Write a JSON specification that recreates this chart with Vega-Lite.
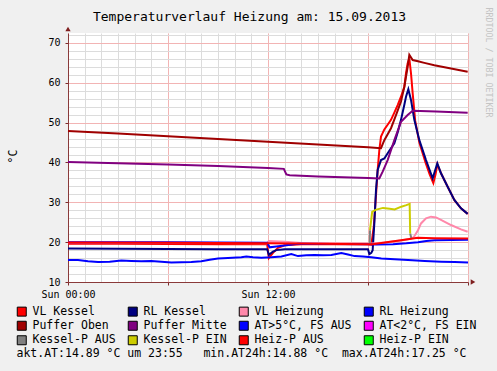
{
  "$schema": "https://vega.github.io/schema/vega-lite/v6.json",
  "width": 400,
  "height": 249,
  "autosize": "none",
  "padding": {"left": 68, "top": 33, "right": 29, "bottom": 89},
  "background": "#F0F0F0",
  "view": {"fill": "#FFFFFF", "stroke": null},
  "config": {
    "view": {"fill": "#FFFFFF", "stroke": null},
    "font": "DejaVu Sans Mono",
    "axis": {"labelFont": "DejaVu Sans Mono", "titleFont": "DejaVu Sans Mono", "labelColor": "#000000", "titleColor": "#000000", "titleFontWeight": "normal"}
  },
  "datasets": {
    "d": [
      {"s":"VL Kessel","g":1,"t":0,"v":19.6},{"s":"VL Kessel","g":1,"t":3,"v":19.6},{"s":"VL Kessel","g":1,"t":6,"v":19.55},{"s":"VL Kessel","g":1,"t":9,"v":19.5},{"s":"VL Kessel","g":1,"t":11.95,"v":19.5},{"s":"VL Kessel","g":1,"t":12.05,"v":16.0},{"s":"VL Kessel","g":1,"t":12.3,"v":17.3},{"s":"VL Kessel","g":1,"t":12.6,"v":18.6},{"s":"VL Kessel","g":1,"t":13.0,"v":19.2},{"s":"VL Kessel","g":1,"t":14,"v":19.5},{"s":"VL Kessel","g":1,"t":18.0,"v":19.5},{"s":"VL Kessel","g":1,"t":18.2,"v":19.4},{"s":"VL Kessel","g":1,"t":18.35,"v":24},{"s":"VL Kessel","g":1,"t":18.5,"v":33},{"s":"VL Kessel","g":1,"t":18.58,"v":38.1},{"s":"VL Kessel","g":1,"t":18.68,"v":43.1},{"s":"VL Kessel","g":1,"t":18.78,"v":46.5},{"s":"VL Kessel","g":1,"t":18.98,"v":48.3},{"s":"VL Kessel","g":1,"t":19.2,"v":49.6},{"s":"VL Kessel","g":1,"t":19.38,"v":50.7},{"s":"VL Kessel","g":1,"t":19.58,"v":52.5},{"s":"VL Kessel","g":1,"t":19.78,"v":54.4},{"s":"VL Kessel","g":1,"t":19.98,"v":56.5},{"s":"VL Kessel","g":1,"t":20.18,"v":59.0},{"s":"VL Kessel","g":1,"t":20.28,"v":62.4},{"s":"VL Kessel","g":1,"t":20.38,"v":64.9},{"s":"VL Kessel","g":1,"t":20.48,"v":66.1},{"s":"VL Kessel","g":1,"t":20.58,"v":62.4},{"s":"VL Kessel","g":1,"t":20.68,"v":57.4},{"s":"VL Kessel","g":1,"t":20.83,"v":50.5},{"s":"VL Kessel","g":1,"t":21.08,"v":45.0},{"s":"VL Kessel","g":1,"t":21.45,"v":40.0},{"s":"VL Kessel","g":1,"t":21.7,"v":37.0},{"s":"VL Kessel","g":1,"t":21.92,"v":34.8},{"s":"VL Kessel","g":1,"t":22.05,"v":37.0},{"s":"VL Kessel","g":1,"t":22.16,"v":39.5},{"s":"VL Kessel","g":1,"t":22.38,"v":37.3},{"s":"VL Kessel","g":1,"t":22.78,"v":33.9},{"s":"VL Kessel","g":1,"t":23.18,"v":30.6},{"s":"VL Kessel","g":1,"t":23.58,"v":28.5},{"s":"VL Kessel","g":1,"t":23.98,"v":27.1},

      {"s":"RL Kessel","g":1,"t":0,"v":18.4},{"s":"RL Kessel","g":1,"t":3,"v":18.35},{"s":"RL Kessel","g":1,"t":6,"v":18.3},{"s":"RL Kessel","g":1,"t":9,"v":18.25},{"s":"RL Kessel","g":1,"t":11.95,"v":18.2},{"s":"RL Kessel","g":1,"t":12.05,"v":16.8},{"s":"RL Kessel","g":1,"t":12.3,"v":17.6},{"s":"RL Kessel","g":1,"t":12.5,"v":18.0},{"s":"RL Kessel","g":1,"t":13,"v":18.2},{"s":"RL Kessel","g":1,"t":15,"v":18.2},{"s":"RL Kessel","g":1,"t":18.0,"v":18.2},{"s":"RL Kessel","g":1,"t":18.08,"v":17.0},{"s":"RL Kessel","g":1,"t":18.2,"v":17.3},{"s":"RL Kessel","g":1,"t":18.28,"v":18.0},{"s":"RL Kessel","g":1,"t":18.38,"v":24.7},{"s":"RL Kessel","g":1,"t":18.48,"v":33.1},{"s":"RL Kessel","g":1,"t":18.58,"v":38.1},{"s":"RL Kessel","g":1,"t":18.78,"v":40.6},{"s":"RL Kessel","g":1,"t":18.98,"v":41.0},{"s":"RL Kessel","g":1,"t":19.18,"v":42.3},{"s":"RL Kessel","g":1,"t":19.58,"v":44.8},{"s":"RL Kessel","g":1,"t":19.78,"v":47.5},{"s":"RL Kessel","g":1,"t":19.98,"v":50.7},{"s":"RL Kessel","g":1,"t":20.18,"v":54.5},{"s":"RL Kessel","g":1,"t":20.28,"v":56.5},{"s":"RL Kessel","g":1,"t":20.42,"v":58.4},{"s":"RL Kessel","g":1,"t":20.58,"v":55.7},{"s":"RL Kessel","g":1,"t":20.78,"v":50.7},{"s":"RL Kessel","g":1,"t":21.08,"v":45.6},{"s":"RL Kessel","g":1,"t":21.48,"v":40.6},{"s":"RL Kessel","g":1,"t":21.88,"v":36.0},{"s":"RL Kessel","g":1,"t":22.16,"v":39.8},{"s":"RL Kessel","g":1,"t":22.38,"v":37.3},{"s":"RL Kessel","g":1,"t":22.78,"v":33.9},{"s":"RL Kessel","g":1,"t":23.18,"v":30.6},{"s":"RL Kessel","g":1,"t":23.58,"v":28.5},{"s":"RL Kessel","g":1,"t":23.98,"v":27.1},

      {"s":"VL Heizung","g":1,"t":0,"v":19.9},{"s":"VL Heizung","g":1,"t":6,"v":19.85},{"s":"VL Heizung","g":1,"t":11.95,"v":19.75},{"s":"VL Heizung","g":1,"t":12.05,"v":20.3},{"s":"VL Heizung","g":1,"t":13,"v":20.1},{"s":"VL Heizung","g":1,"t":14,"v":19.8},{"s":"VL Heizung","g":1,"t":18,"v":19.6},{"s":"VL Heizung","g":1,"t":19,"v":19.9},{"s":"VL Heizung","g":1,"t":20,"v":20.4},{"s":"VL Heizung","g":1,"t":20.6,"v":20.9},{"s":"VL Heizung","g":1,"t":20.75,"v":21.3},{"s":"VL Heizung","g":1,"t":21.0,"v":23.0},{"s":"VL Heizung","g":1,"t":21.18,"v":24.7},{"s":"VL Heizung","g":1,"t":21.48,"v":26.0},{"s":"VL Heizung","g":1,"t":21.78,"v":26.4},{"s":"VL Heizung","g":1,"t":22.08,"v":26.2},{"s":"VL Heizung","g":1,"t":22.38,"v":25.6},{"s":"VL Heizung","g":1,"t":22.98,"v":24.3},{"s":"VL Heizung","g":1,"t":23.58,"v":23.2},{"s":"VL Heizung","g":1,"t":23.98,"v":22.6},

      {"s":"RL Heizung","g":1,"t":0,"v":20.0},{"s":"RL Heizung","g":1,"t":6,"v":19.95},{"s":"RL Heizung","g":1,"t":11.95,"v":19.85},{"s":"RL Heizung","g":1,"t":12.1,"v":18.7},{"s":"RL Heizung","g":1,"t":12.5,"v":18.9},{"s":"RL Heizung","g":1,"t":13.2,"v":19.3},{"s":"RL Heizung","g":1,"t":13.8,"v":19.6},{"s":"RL Heizung","g":1,"t":18,"v":19.5},{"s":"RL Heizung","g":1,"t":18.5,"v":19.4},{"s":"RL Heizung","g":1,"t":19.5,"v":19.5},{"s":"RL Heizung","g":1,"t":20.3,"v":19.7},{"s":"RL Heizung","g":1,"t":21.0,"v":20.0},{"s":"RL Heizung","g":1,"t":21.5,"v":20.3},{"s":"RL Heizung","g":1,"t":22,"v":20.5},{"s":"RL Heizung","g":1,"t":24,"v":20.6},

      {"s":"Puffer Oben","g":1,"t":0,"v":47.9},{"s":"Puffer Oben","g":1,"t":3,"v":47.3},{"s":"Puffer Oben","g":1,"t":6,"v":46.6},{"s":"Puffer Oben","g":1,"t":9,"v":45.9},{"s":"Puffer Oben","g":1,"t":12,"v":45.2},{"s":"Puffer Oben","g":1,"t":15,"v":44.5},{"s":"Puffer Oben","g":1,"t":18,"v":43.8},{"s":"Puffer Oben","g":1,"t":18.78,"v":43.6},{"s":"Puffer Oben","g":1,"t":18.98,"v":45.6},{"s":"Puffer Oben","g":1,"t":19.38,"v":48.6},{"s":"Puffer Oben","g":1,"t":19.68,"v":51.9},{"s":"Puffer Oben","g":1,"t":19.98,"v":55.3},{"s":"Puffer Oben","g":1,"t":20.18,"v":59.0},{"s":"Puffer Oben","g":1,"t":20.38,"v":64.0},{"s":"Puffer Oben","g":1,"t":20.48,"v":67.0},{"s":"Puffer Oben","g":1,"t":20.68,"v":65.7},{"s":"Puffer Oben","g":1,"t":21.0,"v":65.4},{"s":"Puffer Oben","g":1,"t":21.38,"v":65.0},{"s":"Puffer Oben","g":1,"t":21.98,"v":64.4},{"s":"Puffer Oben","g":1,"t":22.98,"v":63.6},{"s":"Puffer Oben","g":1,"t":23.98,"v":62.8},

      {"s":"Puffer Mitte","g":1,"t":0,"v":40.1},{"s":"Puffer Mitte","g":1,"t":3,"v":39.8},{"s":"Puffer Mitte","g":1,"t":6,"v":39.5},{"s":"Puffer Mitte","g":1,"t":9,"v":39.1},{"s":"Puffer Mitte","g":1,"t":12,"v":38.6},{"s":"Puffer Mitte","g":1,"t":12.95,"v":38.4},{"s":"Puffer Mitte","g":1,"t":13.1,"v":37.0},{"s":"Puffer Mitte","g":1,"t":13.3,"v":36.8},{"s":"Puffer Mitte","g":1,"t":15,"v":36.5},{"s":"Puffer Mitte","g":1,"t":18,"v":36.1},{"s":"Puffer Mitte","g":1,"t":18.68,"v":36.0},{"s":"Puffer Mitte","g":1,"t":18.88,"v":37.7},{"s":"Puffer Mitte","g":1,"t":19.18,"v":40.6},{"s":"Puffer Mitte","g":1,"t":19.58,"v":45.6},{"s":"Puffer Mitte","g":1,"t":19.98,"v":50.2},{"s":"Puffer Mitte","g":1,"t":20.38,"v":51.9},{"s":"Puffer Mitte","g":1,"t":20.68,"v":53.0},{"s":"Puffer Mitte","g":1,"t":22.08,"v":52.8},{"s":"Puffer Mitte","g":1,"t":23.98,"v":52.5},

      {"s":"AT>5°C, FS AUS","g":1,"t":0,"v":15.5},{"s":"AT>5°C, FS AUS","g":1,"t":0.6,"v":15.5},{"s":"AT>5°C, FS AUS","g":1,"t":1.2,"v":15.2},{"s":"AT>5°C, FS AUS","g":1,"t":1.8,"v":15.0},{"s":"AT>5°C, FS AUS","g":1,"t":2.5,"v":15.1},{"s":"AT>5°C, FS AUS","g":1,"t":3.2,"v":15.4},{"s":"AT>5°C, FS AUS","g":1,"t":3.8,"v":15.3},{"s":"AT>5°C, FS AUS","g":1,"t":4.4,"v":15.2},{"s":"AT>5°C, FS AUS","g":1,"t":5.0,"v":15.3},{"s":"AT>5°C, FS AUS","g":1,"t":5.6,"v":15.1},{"s":"AT>5°C, FS AUS","g":1,"t":6.2,"v":14.9},{"s":"AT>5°C, FS AUS","g":1,"t":6.8,"v":14.95},{"s":"AT>5°C, FS AUS","g":1,"t":7.4,"v":15.0},{"s":"AT>5°C, FS AUS","g":1,"t":8.0,"v":15.2},{"s":"AT>5°C, FS AUS","g":1,"t":8.5,"v":15.6},{"s":"AT>5°C, FS AUS","g":1,"t":9.0,"v":15.9},{"s":"AT>5°C, FS AUS","g":1,"t":9.6,"v":16.0},{"s":"AT>5°C, FS AUS","g":1,"t":10.4,"v":16.2},{"s":"AT>5°C, FS AUS","g":1,"t":10.7,"v":16.4},{"s":"AT>5°C, FS AUS","g":1,"t":11.1,"v":16.2},{"s":"AT>5°C, FS AUS","g":1,"t":11.6,"v":16.1},{"s":"AT>5°C, FS AUS","g":1,"t":12.2,"v":16.2},{"s":"AT>5°C, FS AUS","g":1,"t":12.8,"v":16.4},{"s":"AT>5°C, FS AUS","g":1,"t":13.4,"v":17.0},{"s":"AT>5°C, FS AUS","g":1,"t":13.8,"v":16.5},{"s":"AT>5°C, FS AUS","g":1,"t":14.3,"v":16.7},{"s":"AT>5°C, FS AUS","g":1,"t":14.8,"v":16.8},{"s":"AT>5°C, FS AUS","g":1,"t":15.3,"v":16.7},{"s":"AT>5°C, FS AUS","g":1,"t":15.8,"v":16.8},{"s":"AT>5°C, FS AUS","g":1,"t":16.4,"v":17.25},{"s":"AT>5°C, FS AUS","g":1,"t":16.8,"v":16.9},{"s":"AT>5°C, FS AUS","g":1,"t":17.2,"v":16.5},{"s":"AT>5°C, FS AUS","g":1,"t":17.7,"v":16.4},{"s":"AT>5°C, FS AUS","g":1,"t":18.2,"v":16.2},{"s":"AT>5°C, FS AUS","g":1,"t":18.8,"v":15.9},{"s":"AT>5°C, FS AUS","g":1,"t":19.6,"v":15.7},{"s":"AT>5°C, FS AUS","g":1,"t":20.4,"v":15.5},{"s":"AT>5°C, FS AUS","g":1,"t":21.4,"v":15.3},{"s":"AT>5°C, FS AUS","g":1,"t":22.4,"v":15.1},{"s":"AT>5°C, FS AUS","g":1,"t":23.2,"v":15.0},{"s":"AT>5°C, FS AUS","g":1,"t":24.0,"v":14.9},

      {"s":"Kessel-P AUS","g":1,"t":18.1,"v":19.3},{"s":"Kessel-P AUS","g":1,"t":18.12,"v":23.0},
      {"s":"Kessel-P AUS","g":2,"t":20.53,"v":22.2},{"s":"Kessel-P AUS","g":2,"t":20.6,"v":21.0},

      {"s":"Kessel-P EIN","g":1,"t":18.12,"v":23.0},{"s":"Kessel-P EIN","g":1,"t":18.25,"v":27.6},{"s":"Kessel-P EIN","g":1,"t":18.45,"v":28.1},{"s":"Kessel-P EIN","g":1,"t":18.9,"v":28.6},{"s":"Kessel-P EIN","g":1,"t":19.3,"v":28.4},{"s":"Kessel-P EIN","g":1,"t":19.6,"v":28.2},{"s":"Kessel-P EIN","g":1,"t":20.0,"v":28.9},{"s":"Kessel-P EIN","g":1,"t":20.3,"v":29.3},{"s":"Kessel-P EIN","g":1,"t":20.5,"v":29.6},{"s":"Kessel-P EIN","g":1,"t":20.53,"v":22.2},

      {"s":"Heiz-P AUS","g":1,"t":0,"v":19.9},{"s":"Heiz-P AUS","g":1,"t":6,"v":19.85},{"s":"Heiz-P AUS","g":1,"t":12,"v":19.7},{"s":"Heiz-P AUS","g":1,"t":15,"v":19.6},{"s":"Heiz-P AUS","g":1,"t":18,"v":19.5},{"s":"Heiz-P AUS","g":1,"t":18.3,"v":19.5},{"s":"Heiz-P AUS","g":1,"t":19,"v":19.9},{"s":"Heiz-P AUS","g":1,"t":19.98,"v":20.5},{"s":"Heiz-P AUS","g":1,"t":20.5,"v":20.8},{"s":"Heiz-P AUS","g":1,"t":20.98,"v":21.1},{"s":"Heiz-P AUS","g":1,"t":22,"v":21.0},{"s":"Heiz-P AUS","g":1,"t":24,"v":20.9}
    ],
    "names": [
      {"s":"VL Kessel"},{"s":"RL Kessel"},{"s":"VL Heizung"},{"s":"RL Heizung"},
      {"s":"Puffer Oben"},{"s":"Puffer Mitte"},{"s":"AT>5°C, FS AUS"},{"s":"AT<2°C, FS EIN"},
      {"s":"Kessel-P AUS"},{"s":"Kessel-P EIN"},{"s":"Heiz-P AUS"},{"s":"Heiz-P EIN"}
    ]
  },
  "data": {"name": "d"},
  "layer": [
    {
      "mark": {"type": "point", "size": 0, "opacity": 0},
      "encoding": {
        "x": {"field": "t", "type": "quantitative", "scale": {"domain": [0, 24], "nice": false, "zero": false},
          "axis": {"orient": "bottom", "values": [0,1,2,3,4,5,6,7,8,9,10,11,12,13,14,15,16,17,18,19,20,21,22,23,24], "grid": true, "gridColor": "#DCDCDC", "gridWidth": 1, "ticks": false, "labels": false, "domain": false, "title": null}},
        "y": {"field": "v", "type": "quantitative", "scale": {"domain": [10, 72.5], "nice": false, "zero": false},
          "axis": {"orient": "left", "values": [10,12,14,16,18,20,22,24,26,28,30,32,34,36,38,40,42,44,46,48,50,52,54,56,58,60,62,64,66,68,70,72], "grid": true, "gridColor": "#DCDCDC", "gridWidth": 1, "ticks": false, "labels": false, "domain": false, "title": null}}
      }
    },
    {
      "mark": {"type": "point", "size": 0, "opacity": 0},
      "encoding": {
        "x": {"field": "t", "type": "quantitative", "scale": {"domain": [0, 24], "nice": false, "zero": false},
          "axis": {"orient": "bottom", "values": [0, 6, 12, 18, 24], "grid": true, "gridColor": "#F2B4B4", "gridWidth": 1,
            "ticks": true, "tickSize": 3, "tickColor": "#7F2A2A",
            "labels": true, "labelExpr": "datum.value == 0 ? 'Sun 00:00' : datum.value == 12 ? 'Sun 12:00' : ''",
            "labelFontSize": 10, "labelPadding": 4.5, "labelFlush": false, "labelOverlap": false,
            "domain": true, "domainColor": "#8A3A3A", "domainWidth": 1,
            "title": "akt.AT:14.89 °C um 23:55\u00a0\u00a0\u00a0min.AT24h:14.88 °C\u00a0\u00a0max.AT24h:17.25 °C",
            "titleX": -52, "titleY": 71, "titleAlign": "left", "titleBaseline": "middle", "titleFontSize": 11.5, "titleFontWeight": "normal"}},
        "y": {"field": "v", "type": "quantitative", "scale": {"domain": [10, 72.5], "nice": false, "zero": false},
          "axis": {"orient": "left", "values": [10, 20, 30, 40, 50, 60, 70], "grid": true, "gridColor": "#F2B4B4", "gridWidth": 1,
            "ticks": true, "tickSize": 3, "tickColor": "#7F2A2A",
            "labelFontSize": 10, "labelPadding": 5, "labelFlush": false,
            "domain": true, "domainColor": "#8A3A3A", "domainWidth": 1,
            "title": "°C", "titleX": -55, "titleY": 123, "titleAngle": -90, "titleAlign": "center", "titleBaseline": "middle", "titleFontSize": 11.5, "titleFontWeight": "normal"}}
      }
    },
    {
      "mark": {"type": "line", "strokeWidth": 2, "interpolate": "linear"},
      "encoding": {
        "x": {"field": "t", "type": "quantitative", "scale": {"domain": [0, 24], "nice": false, "zero": false},
          "axis": {"orient": "top", "grid": false, "ticks": false, "labels": false, "domain": false,
            "title": "Temperaturverlauf Heizung am: 15.09.2013", "titleX": 181, "titleY": -17, "titleAlign": "center", "titleBaseline": "middle", "titleFontSize": 13, "titleFontWeight": "normal", "titleColor": "#000000"}},
        "y": {"field": "v", "type": "quantitative", "scale": {"domain": [10, 72.5], "nice": false, "zero": false},
          "axis": {"orient": "right", "grid": false, "ticks": false, "labels": false, "domain": false,
            "title": "RRDTOOL / TOBI OETIKER", "titleX": 19.5, "titleY": -26, "titleAngle": 90, "titleAlign": "left", "titleBaseline": "middle", "titleFontSize": 8.3, "titleFontWeight": "normal", "titleColor": "#C4C4C4"}},
        "color": {"field": "s", "type": "nominal",
          "scale": {"domain": ["VL Kessel","RL Kessel","VL Heizung","RL Heizung","Puffer Oben","Puffer Mitte","AT>5°C, FS AUS","Kessel-P AUS","Kessel-P EIN","Heiz-P AUS"],
                    "range": ["#FF0000","#000080","#FF88AA","#0000FF","#A00000","#800080","#0000FF","#808080","#CCCC00","#FF0000"]},
          "legend": null},
        "detail": {"field": "g", "type": "nominal"}
      }
    },
    {
      "data": {"name": "names"},
      "mark": {"type": "square", "size": 0},
      "encoding": {
        "fill": {"field": "s", "type": "nominal",
          "scale": {"domain": ["VL Kessel","RL Kessel","VL Heizung","RL Heizung","Puffer Oben","Puffer Mitte","AT>5°C, FS AUS","AT<2°C, FS EIN","Kessel-P AUS","Kessel-P EIN","Heiz-P AUS","Heiz-P EIN"],
                    "range": ["#FF0000","#000080","#FF88AA","#0000FF","#A00000","#800080","#0000FF","#FF00FF","#808080","#CCCC00","#FF0000","#00FF00"]},
          "legend": {"orient": "none", "legendX": -52, "legendY": 272.5, "direction": "horizontal", "columns": 4, "title": null,
            "symbolType": "square", "symbolSize": 81, "symbolStrokeColor": "#000000", "symbolStrokeWidth": 1, "symbolOpacity": 1,
            "labelFont": "DejaVu Sans Mono", "labelFontSize": 11.5, "labelColor": "#000000", "labelOffset": 5, "labelLimit": 300,
            "columnPadding": 10, "rowPadding": 0.5, "padding": 0}}
      }
    },
    {
      "data": {"values": [{"t": 24.3, "v": 10}]},
      "mark": {"type": "point", "shape": "triangle-right", "filled": true, "color": "#7F1F1F", "size": 28, "opacity": 1},
      "encoding": {
        "x": {"field": "t", "type": "quantitative", "axis": null},
        "y": {"field": "v", "type": "quantitative", "axis": null}
      }
    },
    {
      "data": {"values": [{"t": 0, "v": 73.5}]},
      "mark": {"type": "point", "shape": "triangle-up", "filled": true, "color": "#7F1F1F", "size": 28, "opacity": 1},
      "encoding": {
        "x": {"field": "t", "type": "quantitative", "axis": null},
        "y": {"field": "v", "type": "quantitative", "axis": null}
      }
    }
  ],
  "resolve": {"axis": {"x": "independent", "y": "independent"}}
}
